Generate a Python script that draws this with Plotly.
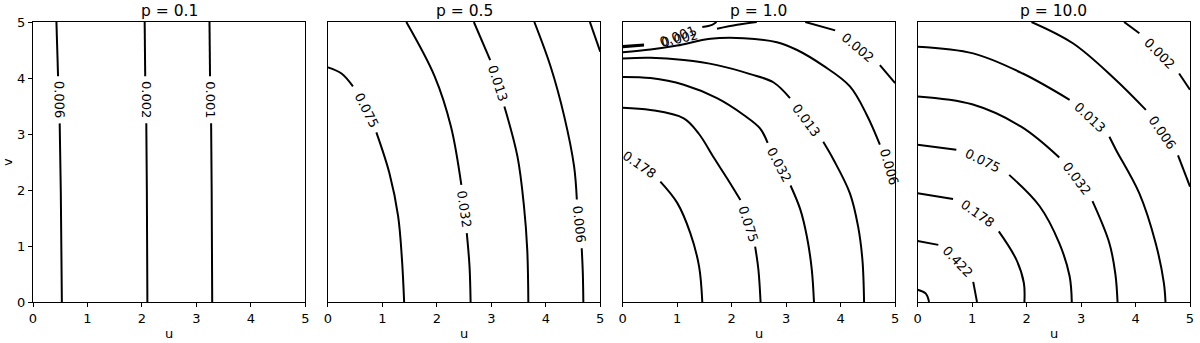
import plotly.graph_objects as go

# contour lines, one (u, v) pair of lists per level;
# None marks the gap that the inline label leaves in the line

# p = 0.1
p01_006_u = [0.43, 0.46, None, 0.49, 0.51, 0.53]
p01_006_v = [5.0, 4.03, None, 3.19, 2.0, 0.0]
p01_002_u = [2.05, 2.06, None, 2.08, 2.09, 2.10]
p01_002_v = [5.0, 4.03, None, 3.19, 2.0, 0.0]
p01_001_u = [3.24, 3.25, None, 3.27, 3.28, 3.29]
p01_001_v = [5.0, 4.03, None, 3.19, 2.0, 0.0]

# p = 0.5
p05_075_u = [0.0, 0.25, 0.46, None, 0.89, 1.13, 1.29, 1.36, 1.40]
p05_075_v = [4.19, 4.08, 3.85, None, 3.03, 2.30, 1.53, 0.76, 0.0]
p05_032_u = [1.44, 1.96, 2.26, 2.45, None, 2.55, 2.60, 2.62]
p05_032_v = [5.0, 4.03, 3.13, 2.09, None, 1.23, 0.64, 0.0]
p05_013_u = [2.68, 2.98, None, 3.24, 3.48, 3.60, 3.66, 3.68]
p05_013_v = [5.0, 4.32, None, 3.49, 2.60, 1.71, 0.93, 0.0]
p05_006_u = [3.79, 4.09, 4.34, 4.52, 4.57, None, 4.66, 4.68, 4.69]
p05_006_v = [5.0, 4.20, 3.31, 2.42, 1.83, None, 0.96, 0.52, 0.0]
p05_002_u = [4.81, 5.0]
p05_002_v = [5.0, 4.47]

# p = 1.0
p10_178_u = [0.69, 1.0, 1.24, 1.40, 1.46]
p10_178_v = [2.15, 1.77, 1.23, 0.64, 0.0]
p10_075_u = [0.0, 0.51, 1.12, 1.40, 1.67, 1.92, 2.16, None, 2.43, 2.49, 2.53]
p10_075_v = [3.47, 3.43, 3.28, 3.0, 2.58, 2.20, 1.82, None, 0.99, 0.58, 0.0]
p10_032_u = [0.0, 0.51, 1.12, 1.73, 2.22, 2.52, 2.66, None, 3.08, 3.26, 3.38, 3.47, 3.51]
p10_032_v = [4.02, 4.00, 3.88, 3.64, 3.34, 3.10, 2.84, None, 2.08, 1.65, 1.17, 0.58, 0.0]
p10_013_u = [0.0, 0.51, 1.12, 1.73, 2.34, 2.77, 3.07, None, 3.68, 3.87, 4.17, 4.32, 4.40, 4.43]
p10_013_v = [4.35, 4.36, 4.32, 4.23, 4.07, 3.92, 3.64, None, 2.86, 2.54, 1.94, 1.35, 0.75, 0.0]
p10_006_u = [0.0, 0.51, 1.0, 1.61, 2.22, 2.83, 3.2, 3.68, 4.17, 4.48, 4.72]
p10_006_v = [4.46, 4.51, 4.58, 4.70, 4.71, 4.64, 4.50, 4.22, 3.85, 3.34, 2.81]
p10_002_u = [0.0, 0.39, None, 1.73, 2.1, 2.46, None, 3.35, 3.9, None, 4.72, 5.0]
p10_002_v = [4.55, 4.58, None, 4.88, 4.95, 5.0, None, 5.0, 4.85, None, 4.23, 3.91]
p10_001_u = [0.0, 0.39, None, 1.46, 1.64, 1.72]
p10_001_v = [4.57, 4.60, None, 4.91, 4.95, 5.0]

# p = 10.0
p100_1_u = [0.0, 0.15, 0.21]
p100_1_v = [0.22, 0.15, 0.0]
p100_422_u = [0.0, 0.38, None, 1.02, 1.09]
p100_422_v = [1.09, 1.02, None, 0.36, 0.0]
p100_178_u = [0.0, 0.65, None, 1.49, 1.81, 1.95, 1.96]
p100_178_v = [1.94, 1.84, None, 1.26, 0.76, 0.34, 0.0]
p100_075_u = [0.0, 0.71, None, 1.68, 2.24, 2.60, 2.79, 2.83]
p100_075_v = [2.81, 2.72, None, 2.27, 1.71, 1.05, 0.46, 0.0]
p100_032_u = [0.0, 1.0, 1.9, 2.6, None, 3.21, 3.52, 3.63, 3.67]
p100_032_v = [3.67, 3.53, 3.13, 2.58, None, 1.80, 1.05, 0.5, 0.0]
p100_013_u = [0.0, 1.02, 1.93, 2.79, None, 3.52, 3.64, 4.07, 4.37, 4.52, 4.55]
p100_013_v = [4.56, 4.44, 4.08, 3.61, None, 2.95, 2.72, 1.94, 1.05, 0.34, 0.0]
p100_006_u = [2.09, 2.85, 3.6, 4.19, None, 4.78, 5.0]
p100_006_v = [5.0, 4.62, 4.0, 3.43, None, 2.62, 2.06]
p100_002_u = [3.79, 4.07, None, 4.8, 5.0]
p100_002_v = [5.0, 4.8, None, 4.08, 3.79]

titles = ["p = 0.1", "p = 0.5", "p = 1.0", "p = 10.0"]
ticks = [0, 1, 2, 3, 4, 5]

curves = [
    (1, p01_006_u, p01_006_v), (1, p01_002_u, p01_002_v), (1, p01_001_u, p01_001_v),
    (2, p05_075_u, p05_075_v), (2, p05_032_u, p05_032_v), (2, p05_013_u, p05_013_v),
    (2, p05_006_u, p05_006_v), (2, p05_002_u, p05_002_v),
    (3, p10_178_u, p10_178_v), (3, p10_075_u, p10_075_v), (3, p10_032_u, p10_032_v),
    (3, p10_013_u, p10_013_v), (3, p10_006_u, p10_006_v), (3, p10_002_u, p10_002_v),
    (3, p10_001_u, p10_001_v),
    (4, p100_1_u, p100_1_v), (4, p100_422_u, p100_422_v), (4, p100_178_u, p100_178_v),
    (4, p100_075_u, p100_075_v), (4, p100_032_u, p100_032_v), (4, p100_013_u, p100_013_v),
    (4, p100_006_u, p100_006_v), (4, p100_002_u, p100_002_v),
]

# inline contour labels: panel, text, centre (u, v), rotation
labels = [
    (1, "0.006", 0.475, 3.61, 89), (1, "0.002", 2.07, 3.61, 90), (1, "0.001", 3.26, 3.61, 90),
    (2, "0.075", 0.70, 3.43, 63), (2, "0.032", 2.51, 1.66, 82),
    (2, "0.013", 3.12, 3.90, 72), (2, "0.006", 4.62, 1.39, 84),
    (3, "0.178", 0.30, 2.46, 35), (3, "0.075", 2.30, 1.40, 72), (3, "0.032", 2.87, 2.46, 62),
    (3, "0.013", 3.375, 3.25, 53), (3, "0.006", 4.89, 2.42, 74), (3, "0.002", 4.31, 4.54, 40),
    (3, "0.002", 1.05, 4.71, -13), (3, "0.001", 1.0, 4.75, -20),
    (4, "0.422", 0.73, 0.72, 47), (4, "0.178", 1.10, 1.58, 35), (4, "0.075", 1.19, 2.52, 26),
    (4, "0.032", 2.92, 2.20, 53), (4, "0.013", 3.16, 3.29, 43), (4, "0.006", 4.49, 3.03, 55),
    (4, "0.002", 4.44, 4.44, 45),
]

FONT = "DejaVu Sans"
w = 0.2354
gap = (1 - 4 * w) / 3
domains = [[i * (w + gap), i * (w + gap) + w] for i in range(4)]
domains[-1][1] = 1.0

fig = go.Figure()

for panel, u, v in curves:
    sfx = "" if panel == 1 else str(panel)
    fig.add_trace(go.Scatter(
        x=u, y=v, mode="lines", xaxis="x" + sfx, yaxis="y" + sfx,
        line=dict(color="black", width=2, shape="spline", smoothing=1),
        connectgaps=False, hoverinfo="skip", showlegend=False,
    ))

annotations = []
for panel, text, u, v, ang in labels:
    sfx = "" if panel == 1 else str(panel)
    annotations.append(dict(
        x=u, y=v, xref="x" + sfx, yref="y" + sfx, text=text, showarrow=False,
        textangle=ang, xanchor="center", yanchor="middle",
        font=dict(family=FONT, size=13, color="black"),
    ))

axis_common = dict(
    range=[0, 5], showgrid=False, zeroline=False, showline=True, mirror=True,
    linecolor="black", linewidth=1,
    tickfont=dict(family=FONT, size=13, color="black"),
)

layout = dict(
    width=1200, height=343,
    margin=dict(l=33, r=6, t=22, b=41),
    paper_bgcolor="white", plot_bgcolor="white",
    showlegend=False,
)

for i in range(4):
    sfx = "" if i == 0 else str(i + 1)
    layout["xaxis" + sfx] = dict(
        axis_common, domain=domains[i], anchor="y" + sfx,
        tickvals=ticks, ticks="outside", ticklen=4, tickwidth=1, tickcolor="black",
    )
    if i == 0:
        layout["yaxis"] = dict(
            axis_common, domain=[0, 1], anchor="x",
            tickvals=ticks, ticks="outside", ticklen=4, tickwidth=1, tickcolor="black",
        )
    else:
        layout["yaxis" + sfx] = dict(
            axis_common, domain=[0, 1], anchor="x" + sfx, showticklabels=False, ticks="",
        )
    mid = (domains[i][0] + domains[i][1]) / 2
    annotations.append(dict(
        x=mid, y=1, xref="paper", yref="paper", text=titles[i], showarrow=False,
        xanchor="center", yanchor="bottom", yshift=0,
        font=dict(family=FONT, size=15.5, color="black"),
    ))
    annotations.append(dict(
        x=mid, y=0, xref="paper", yref="paper", text="u", showarrow=False,
        xanchor="center", yanchor="middle", yshift=-31,
        font=dict(family=FONT, size=13, color="black"),
    ))

annotations.append(dict(
    x=0, y=0.5, xref="paper", yref="paper", text="v", showarrow=False, textangle=-90,
    xanchor="center", yanchor="middle", xshift=-26,
    font=dict(family=FONT, size=13, color="black"),
))

layout["annotations"] = annotations
fig.update_layout(**layout)

# the page body has a default 8px margin; drop it so the figure sits at the window corner
fig.write_html(
    "out.html",
    config={"displayModeBar": False},
    post_script="document.body.style.margin = '0px';",
)
